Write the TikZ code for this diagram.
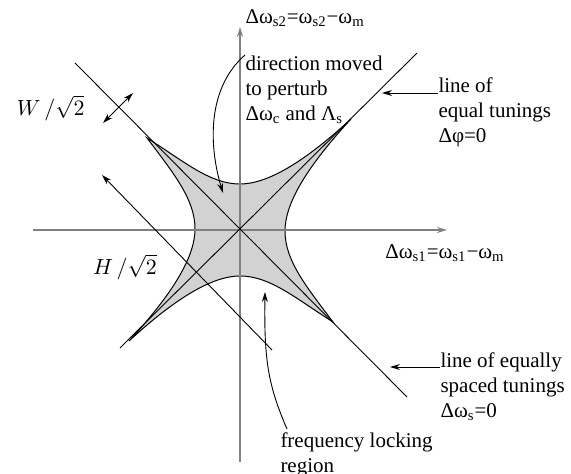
\documentclass[tikz,border=0pt]{standalone}
\usepackage{fontspec}
\setmainfont{Liberation Serif}
\usetikzlibrary{arrows.meta}

\begin{document}
\begin{tikzpicture}[x=0.5pt,y=0.5pt,line width=0.5pt,>={Stealth[length=5pt,width=3pt]}]
\tikzset{axis/.style={draw=gray,line width=1pt},
  tuning/.style={line width=0.45pt},
  region/.style={fill=gray!35,draw=black,line width=0.5pt},
  lbl/.style={align=left,inner sep=0pt,font=\rmfamily\fontsize{10.5}{12.5}\selectfont}}
\useasboundingbox (-240,-244) rectangle (331,230);
% ---------- frequency locking region ----------
\draw[region] (-93,92) .. controls (-55,68) and (-30,46) .. (0,46)
  .. controls (25,46) and (60,64) .. (111,111)
  .. controls (64,60) and (45,25) .. (45,-1)
  .. controls (45,-30) and (65,-55) .. (93,-92)
  .. controls (55,-68) and (30,-46) .. (0,-46)
  .. controls (-25,-46) and (-60,-64) .. (-111,-111)
  .. controls (-64,-60) and (-45,-25) .. (-45,1)
  .. controls (-45,30) and (-65,55) .. (-93,92) -- cycle;
% ---------- axes ----------
\coordinate (xl) at (-207,0);
\coordinate (xr) at (207,0);
\coordinate (yb) at (0,-232);
\coordinate (yt) at (0,203);
\draw[axis,->] (xl) -- (xr);
\draw[axis,->] (yb) -- (yt);
\node[lbl] (dxlbl) at (205,-23) {Δω\textsubscript{s1}=ω\textsubscript{s1}−ω\textsubscript{m}};
\node[lbl,anchor=west] (dylbl) at (5,212) {Δω\textsubscript{s2}=ω\textsubscript{s2}−ω\textsubscript{m}};
% ---------- tuning lines ----------
\coordinate (eqA) at (-120,-118);
\coordinate (eqB) at (177,177);
\coordinate (spA) at (-165,167);
\coordinate (spB) at (167,-167);
\draw[tuning] (eqA) -- (eqB);
\draw[tuning] (spA) -- (spB);
% ---------- widths ----------
\coordinate (wA) at (-137,107);
\coordinate (wB) at (-107,137);
\draw[tuning,<->] (wA) -- (wB);
\node[lbl,anchor=east] (wlbl) at (-155,122) {$W\,/\sqrt{2}$};
\coordinate (hA) at (32,-120);
\coordinate (hB) at (-138,55);
\draw[tuning,->] (hA) -- (hB);
\node[lbl] (hlbl) at (-115,-37) {$H\,/\sqrt{2}$};
% ---------- notes ----------
\node[lbl,anchor=north west] (dirlbl) at (5,175) {direction moved\\to perturb\\Δω\textsubscript{c} and Λ\textsubscript{s}};
\coordinate (dirtip) at (-17,37);
\draw[tuning,->] (dirlbl.north west) .. controls (-35,140) and (-30,80) .. (dirtip);
\node[lbl,anchor=north west] (eqlbl) at (198,153) {line of\\equal tunings\\Δφ=0};
\coordinate (eqpt) at (142,137);
\draw[tuning,->] (eqlbl.west |- 0,137) -- (eqpt);
\node[lbl,anchor=north west] (splbl) at (200,-122) {line of equally\\spaced tunings\\Δω\textsubscript{s}=0};
\coordinate (sppt) at (150,-137);
\draw[tuning,->] (splbl.west |- 0,-137) -- (sppt);
\node[lbl,anchor=north west] (locklbl) at (40,-202) {frequency locking\\region};
\coordinate (locktip) at (25,-62);
\draw[tuning,->] (locklbl.north west) ++(7,3) .. controls (28,-155) and (24,-130) .. (locktip);
\end{tikzpicture}
\end{document}
